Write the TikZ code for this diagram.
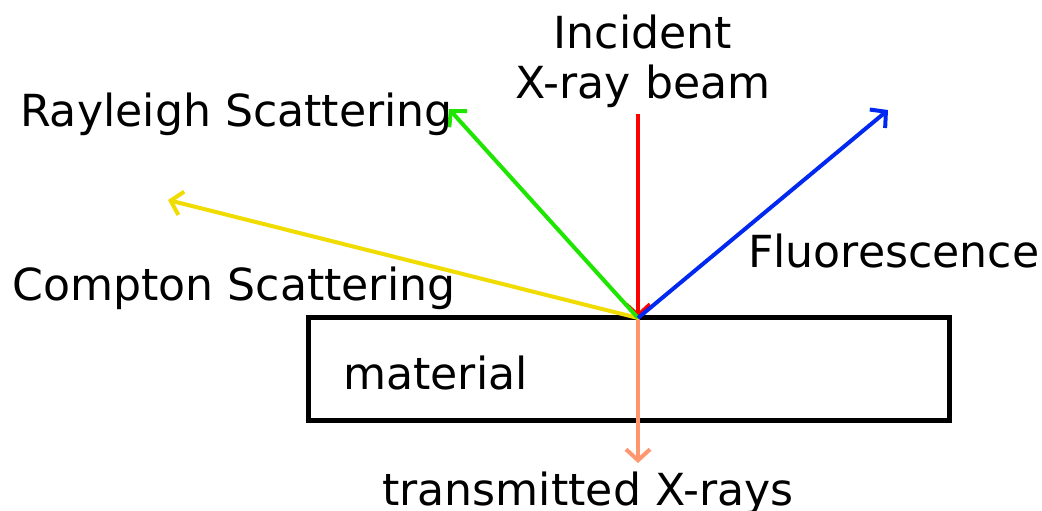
\documentclass[tikz,border=0pt]{standalone}
\usepackage{fontspec}
\setmainfont{DejaVu Sans}
\usetikzlibrary{arrows.meta}
\begin{document}
\begin{tikzpicture}[x=1pt,y=-1pt,
  ray/.style={line width=4pt,-{Straight Barb[length=11pt,width=24pt,line width=4pt]}},
  lbl/.style={inner sep=0pt,anchor=base west,font=\fontsize{44.2}{50}\selectfont}]
  \useasboundingbox (0,0) rectangle (1042,511);
  % the sample slab
  \node[draw,line width=4.5pt,outer sep=0pt,minimum width=641pt,minimum height=103pt,inner sep=0pt,anchor=north west] (slab) at (308.5,317.5) {};
  \coordinate (hit) at (638,318);
  \coordinate (src) at (638,114);
  \coordinate (ray) at (449,109);
  \coordinate (com) at (168,200);
  \coordinate (flu) at (888,110);
  \coordinate (tra) at (638,463);
  % beams
  \draw[ray,color={rgb,255:red,255;green,0;blue,0}] (src) -- (hit);
  \draw[ray,color={rgb,255:red,255;green,150;blue,110}] (hit) -- (tra);
  \draw[ray,color={rgb,255:red,240;green,220;blue,0}] (hit) -- (com);
  \draw[ray,color={rgb,255:red,30;green,230;blue,0}] (hit) -- (ray);
  \draw[ray,color={rgb,255:red,0;green,40;blue,240}] (hit) -- (flu);
  % labels
  \node[lbl,anchor=base] (inc1) at (643,49) {Incident};
  \node[lbl,anchor=base] (inc2) at (643,99) {X-ray beam};
  \node[lbl] (rayl) at (20,126) {Rayleigh Scattering};
  \node[lbl] (comp) at (12,300) {Compton Scattering};
  \node[lbl] (fluo) at (748,267) {Fluorescence};
  \node[lbl] (mat) at (343,389) {material};
  \node[lbl,anchor=base] (trans) at (588,505) {transmitted X-rays};
\end{tikzpicture}
\end{document}
